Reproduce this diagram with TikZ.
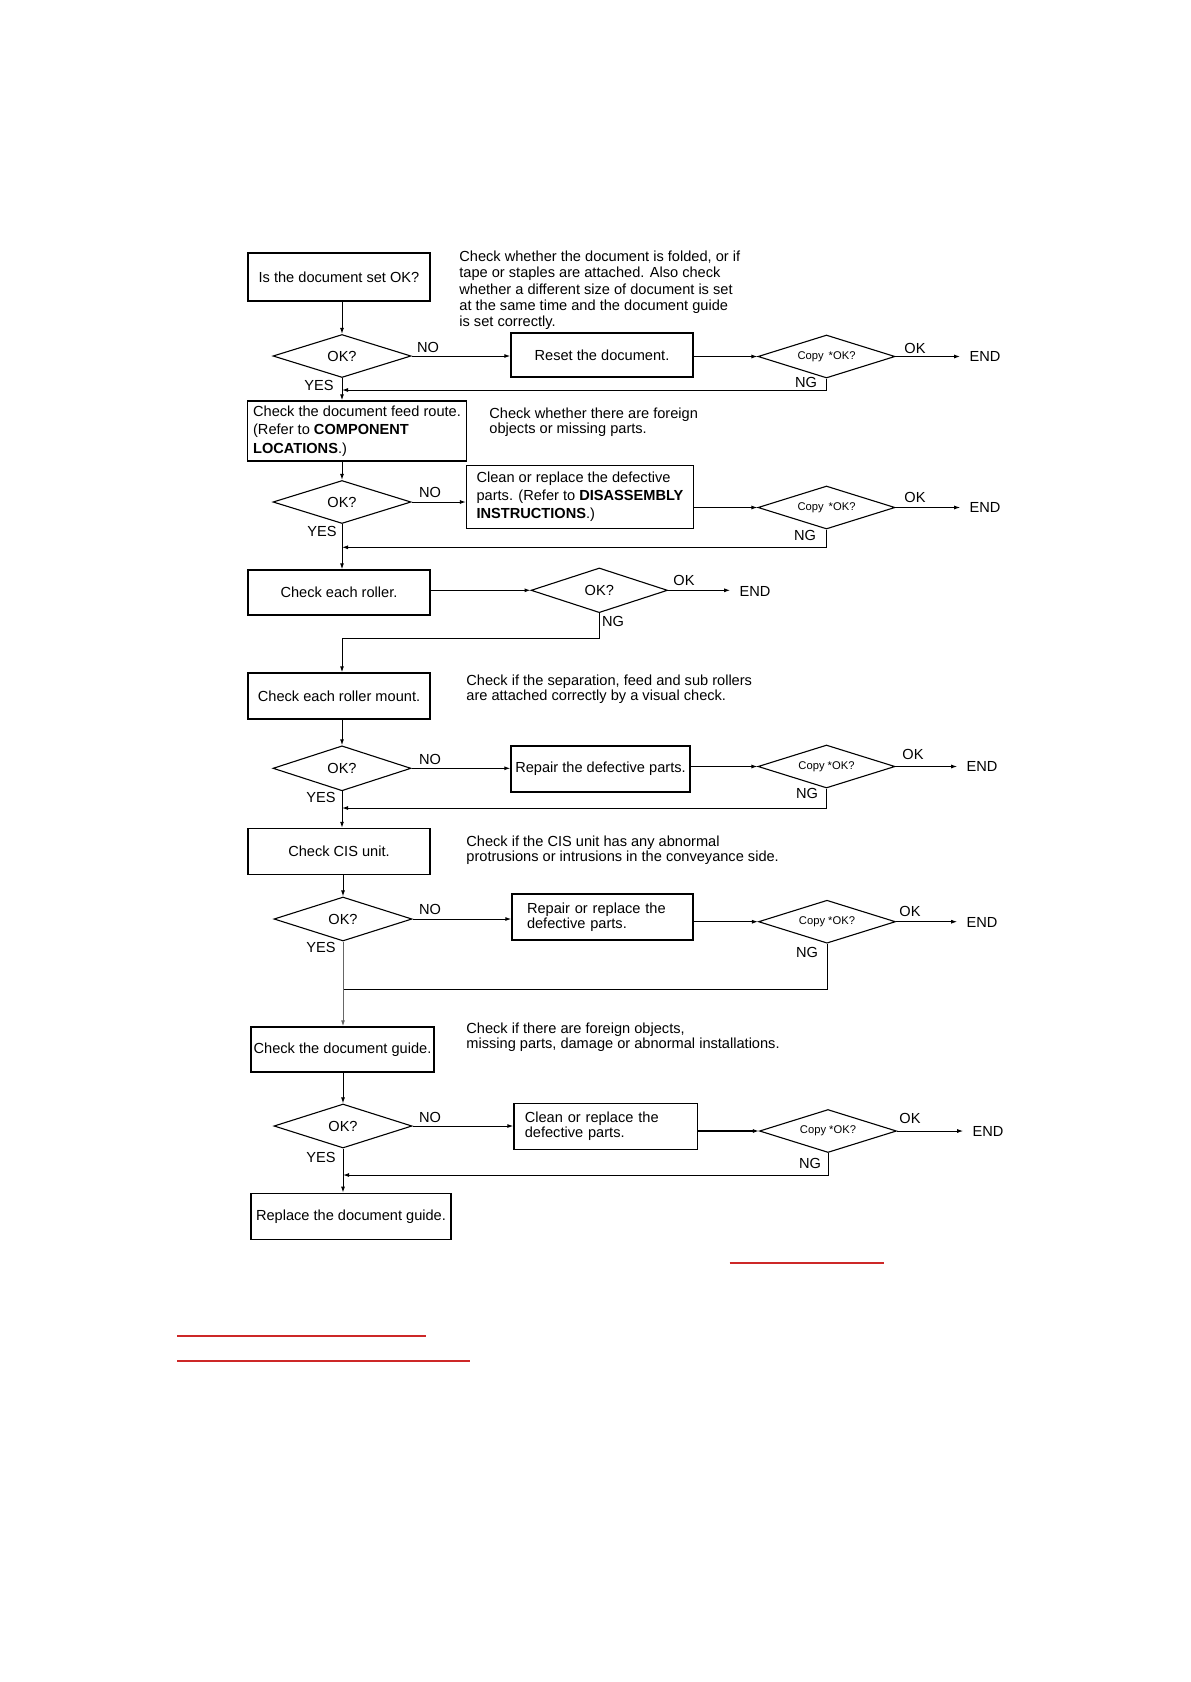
\documentclass[tikz,border=0pt]{standalone}
\usepackage{fontspec}
\setmainfont{Liberation Sans}
\usetikzlibrary{shapes.geometric,arrows.meta,calc}
\newcommand\fsnorm{\fontsize{7.3pt}{8.15pt}\selectfont}
\newcommand\fsnote{\fontsize{7.3pt}{7.5pt}\selectfont}
\newcommand\fssmall{\fontsize{5.6pt}{6.5pt}\selectfont}
\definecolor{redline}{RGB}{205,40,40}
\begin{document}
\begin{tikzpicture}[x=0.5pt,y=-0.5pt,
  box/.style={draw,line width=0.7pt,inner sep=0pt,font=\fsnorm,align=center},
  dia/.style={draw,diamond,aspect=3.2,line width=0.55pt,inner sep=0pt,minimum width=69pt,minimum height=21.5pt,font=\fsnorm},
  cdia/.style={draw,diamond,aspect=3.2,line width=0.55pt,inner sep=0pt,minimum width=68.5pt,minimum height=21.5pt,font=\fssmall},
  lbl/.style={inner sep=0pt,font=\fsnorm},
  note/.style={inner sep=0pt,font=\fsnote,align=left,anchor=north west},
  conn/.style={line width=0.5pt},
  arr/.style={conn,-{Latex[length=3pt,width=2pt]}},
  endarr/.style={arr,shorten >=4.5pt},
  redrule/.style={draw=redline,line width=0.8pt},
]
\useasboundingbox (0,0) rectangle (1190,1682);

% ---------- Row 1 ----------
\node[box,minimum width=91pt,minimum height=24pt] (b1) at (339,277) {Is the document set OK?};
\node[note,font=\fsnorm] (c1) at (459,250.5) {Check whether the document is folded, or if\\tape or staples are attached. Also check\\whether a different size of document is set\\at the same time and the document guide\\is set correctly.};
\node[dia] (d1) at (342,356) {OK?};
\node[lbl] (no1) at (428,347) {NO};
\node[box,minimum width=91pt,minimum height=22pt] (r1) at (602,355) {Reset the document.};
\node[cdia] (cp1) at (826.5,356.5) {Copy\hspace{0.45em}*OK?};
\node[lbl] (ok1) at (915,348) {OK};
\node[lbl] (end1) at (985,356) {END};
\node[lbl] (ng1) at (806,382) {NG};
\node[lbl] (yes1) at (319,385) {YES};
\coordinate (j1) at (342,390);

\draw[arr] (d1.north |- b1.south) -- (d1.north);
\draw[arr] (d1.east) -- (d1.east -| r1.west);
\draw[arr] (r1.east |- cp1.west) -- (cp1.west);
\draw[endarr,line width=0.9pt] (cp1.east) -- (cp1.east -| end1.west);
\draw[arr] (cp1.south) |- (j1);

% ---------- Row 2 ----------
\node[box,minimum width=109.5pt,minimum height=30pt,align=left,font=\fontsize{7.3pt}{9.15pt}\selectfont] (b2) at (357,431) {Check the document feed route.\\(Refer to \textbf{COMPONENT}\\\textbf{LOCATIONS}.)};
\node[note] (c2) at (489,407.5) {Check whether there are foreign\\objects or missing parts.};
\draw[arr] (d1.south) -- (d1.south |- b2.north);
\node[dia] (d2) at (342,502) {OK?};
\node[lbl] (no2) at (430,492) {NO};
\node[box,minimum width=113.4pt,minimum height=31.4pt,align=left,font=\fontsize{7.3pt}{8.9pt}\selectfont] (r2) at (580,497) {Clean or replace the defective\\parts. (Refer to \textbf{DISASSEMBLY}\\\textbf{INSTRUCTIONS}.)};
\node[cdia] (cp2) at (826.5,507.5) {Copy\hspace{0.45em}*OK?};
\node[lbl] (ok2) at (915,497) {OK};
\node[lbl] (end2) at (985,507) {END};
\node[lbl] (ng2) at (805,535) {NG};
\node[lbl] (yes2) at (322,531.5) {YES};
\coordinate (j2) at (342,547.3);

\draw[arr] (d2.north |- b2.south) -- (d2.north);
\draw[arr] (d2.east) -- (d2.east -| r2.west);
\draw[arr] (r2.east |- cp2.west) -- (cp2.west);
\draw[endarr] (cp2.east) -- (cp2.east -| end2.west);
\draw[arr] (cp2.south) |- (j2);

% ---------- Row 3 ----------
\node[box,minimum width=91pt,minimum height=22.5pt] (b3) at (339,592.5) {Check each roller.};
\draw[arr] (d2.south) -- (d2.south |- b3.north);
\node[dia,minimum width=68.25pt,minimum height=22.35pt] (d3) at (599.3,590.3) {OK?};
\node[lbl] (ok3) at (684,580) {OK};
\node[lbl] (end3) at (755,591) {END};
\node[lbl] (ng3) at (613,621) {NG};
\coordinate (j3) at (342,638.5);

\draw[arr] (b3.east |- d3.west) -- (d3.west);
\draw[endarr] (d3.east) -- (d3.east -| end3.west);

% ---------- Row 4 ----------
\node[box,minimum width=91pt,minimum height=23pt] (b4) at (339,696) {Check each roller mount.};
\draw[arr] (d3.south) |- (j3) -- (j3 |- b4.north);
\node[note] (c4) at (466,674.8) {Check if the separation, feed and sub rollers\\are attached correctly by a visual check.};
\node[dia,minimum height=22.5pt] (d4) at (342,768.3) {OK?};
\node[lbl] (no4) at (430,759) {NO};
\node[box,minimum width=89.5pt,minimum height=23pt] (r4) at (600.5,769) {Repair the defective parts.};
\node[cdia] (cp4) at (826.5,766.5) {Copy *OK?};
\node[lbl] (ok4) at (913,754.5) {OK};
\node[lbl] (end4) at (982,766.7) {END};
\node[lbl] (ng4) at (807,793) {NG};
\node[lbl] (yes4) at (321,797.5) {YES};
\coordinate (j4) at (342,808);

\draw[arr] (d4.north |- b4.south) -- (d4.north);
\draw[arr] (d4.east) -- (d4.east -| r4.west);
\draw[arr] (r4.east |- cp4.west) -- (cp4.west);
\draw[endarr] (cp4.east) -- (cp4.east -| end4.west);
\draw[arr] (cp4.south) |- (j4);

% ---------- Row 5 ----------
\node[box,minimum width=91pt,minimum height=23pt] (b5) at (339,851.5) {Check CIS unit.};
\draw[arr] (d4.south) -- (d4.south |- b5.north);
\node[note] (c5) at (466,835.8) {Check if the CIS unit has any abnormal\\protrusions or intrusions in the conveyance side.};
\node[dia,minimum height=22pt] (d5) at (343,919) {OK?};
\node[lbl] (no5) at (430,909) {NO};
\node[box,minimum width=90.5pt,minimum height=23pt,align=left,text width=75.5pt,font=\fsnote] (r5) at (602.5,917) {Repair or replace the\\defective parts.};
\node[cdia] (cp5) at (827,921.7) {Copy *OK?};
\node[lbl] (ok5) at (910,911.5) {OK};
\node[lbl] (end5) at (982,922.5) {END};
\node[lbl] (ng5) at (807,952.5) {NG};
\node[lbl] (yes5) at (321,947.5) {YES};
\coordinate (j5) at (343,989);

\draw[arr] (d5.north |- b5.south) -- (d5.north);
\draw[arr] (d5.east) -- (d5.east -| r5.west);
\draw[arr] (r5.east |- cp5.west) -- (cp5.west);
\draw[endarr] (cp5.east) -- (cp5.east -| end5.west);
\draw[conn] (cp5.south) |- (j5);

% ---------- Row 6 ----------
\node[box,minimum width=91.5pt,minimum height=22.5pt] (b6) at (342.5,1049.5) {Check the document guide.};
\draw[arr,draw=black!60] (d5.south) -- (d5.south |- b6.north);
\node[note] (c6) at (466,1022.5) {Check if there are foreign objects,\\missing parts, damage or abnormal installations.};
\node[dia,minimum height=22pt] (d6) at (343,1126) {OK?};
\node[lbl] (no6) at (430,1117) {NO};
\node[box,minimum width=91.75pt,minimum height=23pt,align=left,text width=81pt,font=\fsnote] (r6) at (605.8,1126.2) {Clean or replace the\\defective parts.};
\node[cdia] (cp6) at (828,1131) {Copy *OK?};
\node[lbl] (ok6) at (910,1118) {OK};
\node[lbl] (end6) at (988,1131) {END};
\node[lbl] (ng6) at (810,1163) {NG};
\node[lbl] (yes6) at (321,1157) {YES};
\coordinate (j6) at (343,1175);

\draw[arr] (d6.north |- b6.south) -- (d6.north);
\draw[arr] (d6.east) -- (d6.east -| r6.west);
\draw[arr,line width=0.9pt] (r6.east |- cp6.west) -- (cp6.west);
\draw[endarr] (cp6.east) -- (cp6.east -| end6.west);
\draw[arr] (cp6.south) |- (j6);

% ---------- Row 7 ----------
\node[box,minimum width=100pt,minimum height=23pt] (b7) at (351,1216.3) {Replace the document guide.};
\draw[arr] (d6.south) -- (d6.south |- b7.north);

% ---------- red rules ----------
\draw[redrule] (729.7,1263) -- (884.2,1263);
\draw[redrule] (177,1336) -- (426,1336);
\draw[redrule] (177,1360.7) -- (470,1360.7);
\end{tikzpicture}
\end{document}
